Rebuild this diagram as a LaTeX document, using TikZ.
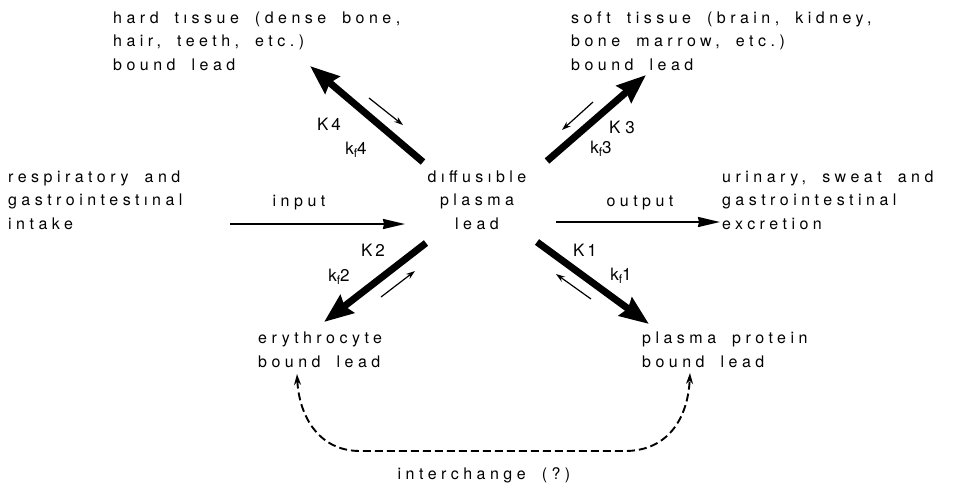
\documentclass[tikz,border=0pt]{standalone}
\usepackage{fontspec}
\setmainfont{TeX Gyre Heros}[LetterSpace=28,WordSpace=1.8]
\usetikzlibrary{arrows.meta}
\newcommand{\kf}[1]{k\raisebox{-3.5pt}{\fontsize{12}{12}\selectfont f}#1}
\begin{document}
\begin{tikzpicture}[x=1pt,y=-1pt,
  font=\fontsize{16}{23.5}\selectfont,
  txt/.style={align=left, inner sep=0pt, anchor=base west},
  lbl/.style={inner sep=0pt, anchor=center, font=\fontsize{17}{17}\selectfont},
  bigarrow/.style={line width=7pt, -{Stealth[length=29pt,width=22pt,inset=3pt]}},
  flowarrow/.style={line width=1.8pt, -{Stealth[length=22pt,width=10pt,inset=1pt]}},
  smallarrow/.style={line width=1.2pt, -{Stealth[length=9pt,width=6pt]}},
  dasharrow/.style={line width=1.9pt, dash pattern=on 8pt off 4pt,
     {Stealth[length=11pt,width=7pt]}-{Stealth[length=11pt,width=7pt]}}]
\useasboundingbox (0,0) rectangle (978,488);

% text nodes (anchored at the baseline of the last line)
\node[txt] (hard) at (113,70) {hard t\i ssue (dense bone,\\hair, teeth, etc.)\\bound lead};
\node[txt] (soft) at (571,70) {soft tissue (brain, kidney,\\bone marrow, etc.)\\bound lead};
\node[txt] (resp) at (8,229) {respiratory and\\gastrointest\i nal\\intake};
\node[txt] (urin) at (722,229) {urinary, sweat and\\gastrointestinal\\excretion};
\node[inner sep=0pt, anchor=base, align=center] (diff) at (477,229) {d\i ffus\i ble\\plasma\\lead};
\node[txt] (ery) at (258,367) {erythrocyte\\bound lead};
\node[txt] (prot) at (642,367) {plasma protein\\bound lead};
\node[inner sep=0pt, anchor=base] (inch) at (484,479) {interchange (?)};
\node[inner sep=0pt, anchor=base] (inlbl) at (299,206) {input};
\node[inner sep=0pt, anchor=base] (outlbl) at (640,206) {output};

% rate labels
\node[lbl] (k4) at (329,124) {K\,4};
\node[lbl] (kf4) at (356,150) {\kf{4}};
\node[lbl] (k3) at (622,127) {K3};
\node[lbl] (kf3) at (601,149) {\kf{3}};
\node[lbl] (k2) at (373,250) {K\,2};
\node[lbl] (kf2) at (339,277) {\kf{2}};
\node[lbl] (k1) at (585,250) {K\,1};
\node[lbl] (kf1) at (621,276) {\kf{1}};

% arrow end coordinates
\coordinate (inS) at (230,224);
\coordinate (inE) at (405,224);
\coordinate (outS) at (556,222);
\coordinate (outE) at (720,222);
\coordinate (a4s) at (423,162); \coordinate (a4e) at (310,66);
\coordinate (b4s) at (369,98);  \coordinate (b4e) at (403,125);
\coordinate (a3s) at (547,161); \coordinate (a3e) at (646,75);
\coordinate (b3s) at (593,102); \coordinate (b3e) at (562,130);
\coordinate (a2s) at (426,243); \coordinate (a2e) at (324,322);
\coordinate (b2s) at (381,297); \coordinate (b2e) at (415,271);
\coordinate (a1s) at (537,242); \coordinate (a1e) at (649,324);
\coordinate (b1s) at (591,299); \coordinate (b1e) at (556,274);
\coordinate (d1) at (297,374);
\coordinate (d2) at (690,373);

\draw[flowarrow] (inS) -- (inE);
\draw[flowarrow] (outS) -- (outE);
\draw[bigarrow] (a4s) -- (a4e);
\draw[smallarrow] (b4s) -- (b4e);
\draw[bigarrow] (a3s) -- (a3e);
\draw[smallarrow] (b3s) -- (b3e);
\draw[bigarrow] (a2s) -- (a2e);
\draw[smallarrow] (b2s) -- (b2e);
\draw[bigarrow] (a1s) -- (a1e);
\draw[smallarrow] (b1s) -- (b1e);

\draw[dasharrow] (d1) .. controls (299,415) and (318,451) .. (360,451)
   -- (625,451) .. controls (668,451) and (688,418) .. (d2);
\end{tikzpicture}
\end{document}
